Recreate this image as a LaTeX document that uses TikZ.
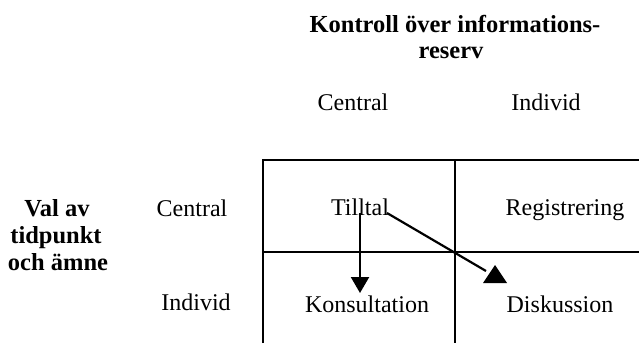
\documentclass[tikz,border=0pt]{standalone}
\usepackage{fontspec}
\setmainfont{Liberation Serif}
\usetikzlibrary{arrows.meta}
\begin{document}
\begin{tikzpicture}[x=1pt,y=1pt,
  lbl/.style={anchor=base,inner sep=0pt,font=\fontsize{24}{27}\selectfont},
  hdr/.style={anchor=base,inner sep=0pt,font=\fontsize{24.5}{27}\selectfont\bfseries},
  gridline/.style={line width=2.4pt},
  conn/.style={line width=2.2pt}]
\useasboundingbox (0,0) rectangle (639,-343);
% title
\node[hdr] (t1) at (455,-32) {Kontroll över informations-};
\node[hdr] (t2) at (451,-58) {reserv};
% column headers
\node[lbl] (cc) at (353,-110) {Central};
\node[lbl] (ci) at (546,-110) {Individ};
% row headers
\node[hdr] (r1) at (57,-216) {Val av};
\node[hdr] (r2) at (56,-243) {tidpunkt};
\node[hdr] (r3) at (58,-270) {och ämne};
\node[lbl] (rc) at (192,-216) {Central};
\node[lbl] (ri) at (196,-310) {Individ};
% grid
\coordinate (g1) at (263,-160);
\coordinate (g2) at (639,-160);
\coordinate (g3) at (263,-343);
\coordinate (g4) at (455,-160);
\coordinate (g5) at (455,-343);
\coordinate (g6) at (263,-252);
\coordinate (g7) at (639,-252);
\draw[gridline] (g3) -- (g1) -- (g2);
\draw[gridline] (g4) -- (g5);
\draw[gridline] (g6) -- (g7);
% cells
\node[lbl] (tilltal) at (360,-215) {Tilltal};
\node[lbl] (reg) at (565,-215) {Registrering};
\node[lbl] (kons) at (367,-312) {Konsultation};
\node[lbl] (disk) at (560,-312) {Diskussion};
% arrows
\coordinate (a1) at (360,-213);
\coordinate (a2) at (360,-293);
\draw[conn,-{Triangle[width=18pt,length=16pt]}] (a1) -- (a2);
\coordinate (b1) at (387,-213);
\coordinate (b2) at (486,-271);
\draw[conn] (b1) -- (b2);
\fill (495,-265) -- (507,-283) -- (483,-283) -- cycle;
\end{tikzpicture}
\end{document}
